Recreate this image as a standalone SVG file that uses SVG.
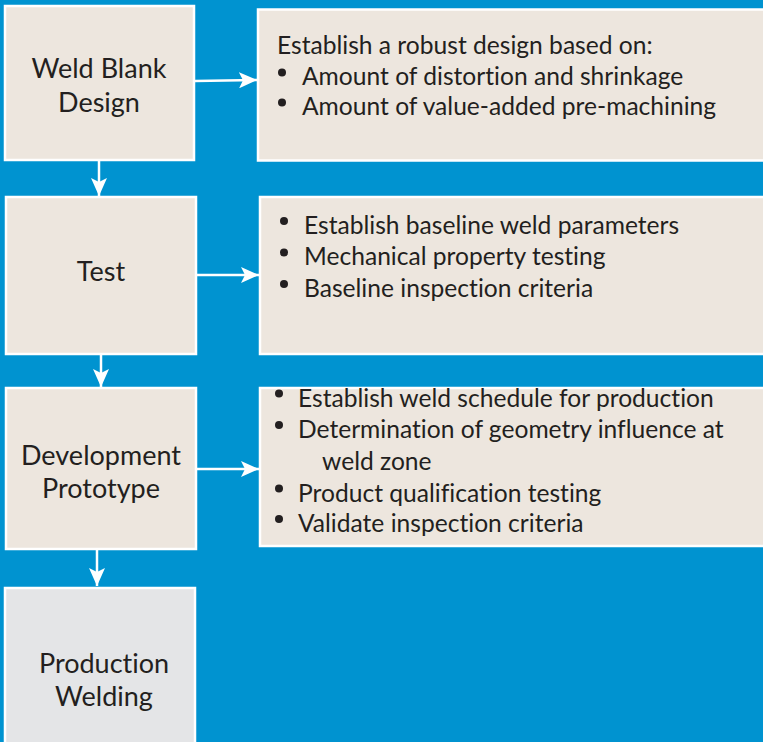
<svg xmlns="http://www.w3.org/2000/svg" width="763" height="742" viewBox="0 0 763 742">
  <defs>
    <marker id="arrow" viewBox="0 0 18 16" refX="18" refY="8" markerWidth="18" markerHeight="16" markerUnits="userSpaceOnUse" orient="auto">
      <path d="M0,0 L18,8 L0,16 L4,8 Z" fill="#ffffff"/>
    </marker>
  </defs>
  <style>
    .step { fill: #ede6de; stroke: #ffffff; stroke-width: 2.5; }
    .final { fill: #e4e5e7; stroke: #ffffff; stroke-width: 2.5; }
    text { font-family: Lato, "Open Sans", sans-serif; fill: #231f20; font-variant-ligatures: none; font-feature-settings: "liga" 0, "clig" 0; }
    .title { font-size: 27px; text-anchor: middle; }
    .body { font-size: 24.6px; }
    .link { stroke: #ffffff; stroke-width: 2.5; fill: none; marker-end: url(#arrow); }
    .dot { fill: #231f20; }
  </style>
  <rect width="763" height="742" fill="#0093d0"/>

  <g id="weld-blank-design">
    <rect class="step" x="5" y="6" width="189" height="154"/>
    <text class="title" x="99" y="78">Weld Blank</text>
    <text class="title" x="99" y="112">Design</text>
  </g>

  <g id="design-notes">
    <rect class="step" x="258" y="9.5" width="510" height="151"/>
    <text class="body" x="277" y="54">Establish a robust design based on:</text>
    <circle class="dot" cx="282" cy="72.5" r="4"/>
    <text class="body" x="302" y="85">Amount of distortion and shrinkage</text>
    <circle class="dot" cx="282" cy="102.5" r="4"/>
    <text class="body" x="302" y="115">Amount of value-added pre-machining</text>
  </g>

  <g id="test">
    <rect class="step" x="6" y="197" width="190" height="157"/>
    <text class="title" x="101" y="281">Test</text>
  </g>

  <g id="test-notes">
    <rect class="step" x="260" y="197" width="510" height="157"/>
    <circle class="dot" cx="284" cy="221" r="4"/>
    <text class="body" x="304" y="234">Establish baseline weld parameters</text>
    <circle class="dot" cx="284" cy="252.5" r="4"/>
    <text class="body" x="304" y="265">Mechanical property testing</text>
    <circle class="dot" cx="284" cy="284" r="4"/>
    <text class="body" x="304" y="297">Baseline inspection criteria</text>
  </g>

  <g id="development-prototype">
    <rect class="step" x="6" y="388" width="190" height="161"/>
    <text class="title" x="101" y="465">Development</text>
    <text class="title" x="101" y="498">Prototype</text>
  </g>

  <g id="prototype-notes">
    <rect class="step" x="260" y="388" width="510" height="158"/>
    <circle class="dot" cx="279" cy="393.5" r="4"/>
    <text class="body" x="298" y="407">Establish weld schedule for production</text>
    <circle class="dot" cx="279" cy="425" r="4"/>
    <text class="body" x="298" y="438">Determination of geometry influence at</text>
    <text class="body" x="322" y="470">weld zone</text>
    <circle class="dot" cx="279" cy="488.5" r="4"/>
    <text class="body" x="298" y="502">Product qualification testing</text>
    <circle class="dot" cx="279" cy="519" r="4"/>
    <text class="body" x="298" y="532">Validate inspection criteria</text>
  </g>

  <g id="production-welding">
    <rect class="final" x="5" y="588" width="190" height="170"/>
    <text class="title" x="104" y="673">Production</text>
    <text class="title" x="104" y="706">Welding</text>
  </g>

  <g id="connectors">
    <line class="link" x1="195" y1="81" x2="257" y2="80"/>
    <line class="link" x1="197" y1="275" x2="259" y2="275"/>
    <line class="link" x1="197" y1="469" x2="259" y2="469"/>
    <line class="link" x1="99" y1="161" x2="99" y2="196"/>
    <line class="link" x1="101" y1="355" x2="101" y2="387"/>
    <line class="link" x1="97" y1="550" x2="97" y2="586"/>
  </g>
</svg>
